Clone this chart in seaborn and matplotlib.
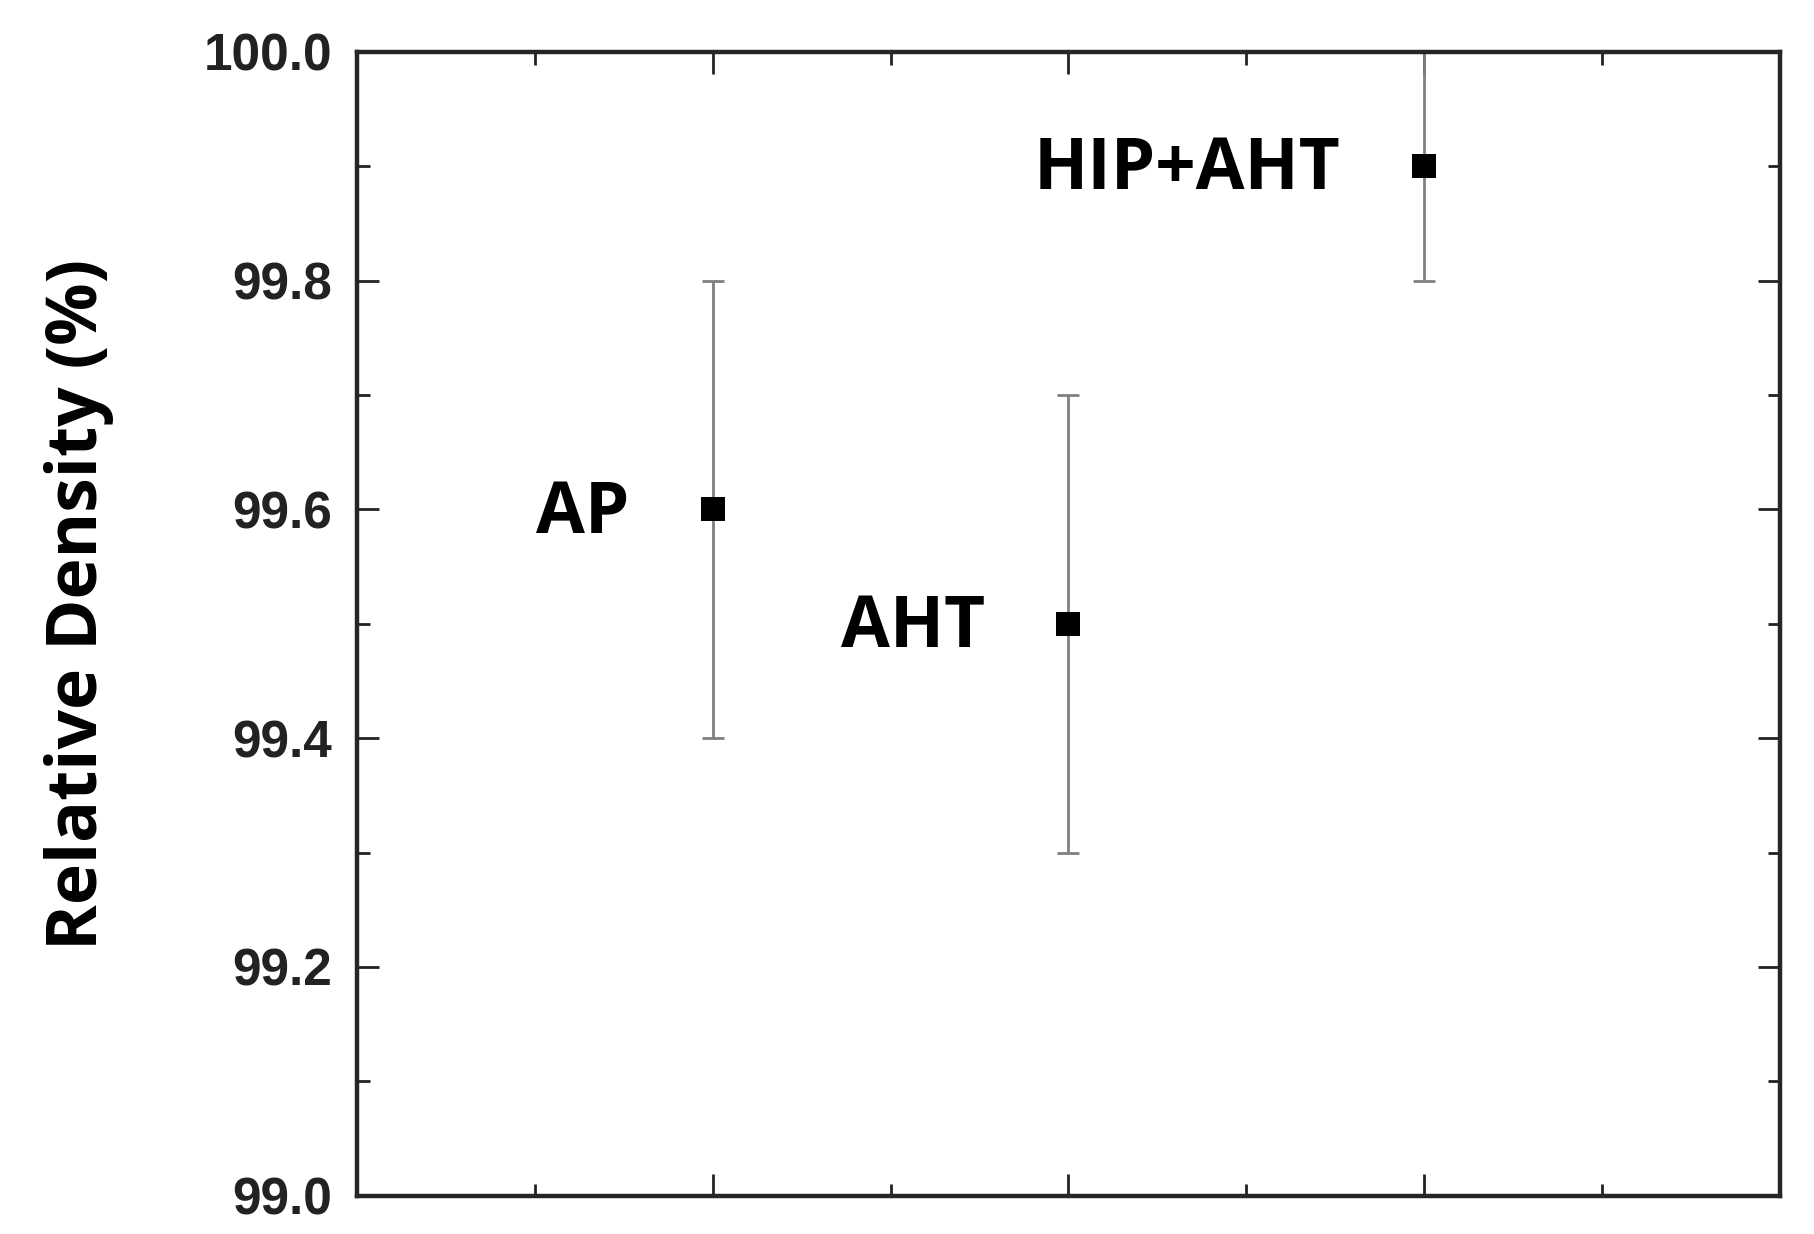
import matplotlib
matplotlib.use("Agg")
import matplotlib.pyplot as plt
from matplotlib.ticker import MultipleLocator
import seaborn as sns
import pandas as pd

# Relative density per processing route
conditions = ["AP", "AHT", "HIP+AHT"]
positions = [1, 2, 3]
density = [99.6, 99.5, 99.9]
density_err = [0.2, 0.2, 0.1]

y_ticks = [99.0, 99.2, 99.4, 99.6, 99.8, 100.0]

df = pd.DataFrame({"condition": conditions, "x": positions,
                   "density": density, "err": density_err})

sns.set_theme(style="ticks")
plt.rcParams['font.family'] = ['Liberation Sans', 'DejaVu Sans']
plt.rcParams['font.weight'] = 'bold'

fig = plt.figure(figsize=(18.14, 12.34), dpi=100)
ax = fig.add_axes([0.197, 0.031, 0.784, 0.927])

# error bars first, then square markers on top
ax.errorbar(df["x"], df["density"], yerr=df["err"], fmt='none',
            ecolor='#808080', elinewidth=2.0, capsize=8, capthick=2.0,
            zorder=2)
sns.scatterplot(data=df, x="x", y="density", marker='s', color='black',
                s=300, linewidth=0, ax=ax, zorder=3, legend=False)

# labels to the left of each point
for _, row in df.iterrows():
    ax.annotate(row["condition"], (row["x"], row["density"]),
                xytext=(-60, -3), textcoords='offset points',
                ha='right', va='center', fontsize=51, fontweight='bold',
                family=['Open Sans', 'DejaVu Sans'], color='black')

ax.set_xlim(0, 4)
ax.set_ylim(99.0, 100.0)
ax.xaxis.set_major_locator(MultipleLocator(1))
ax.xaxis.set_minor_locator(MultipleLocator(0.5))
ax.set_yticks(y_ticks)
ax.set_yticklabels([f"{v:.1f}" for v in y_ticks])
ax.yaxis.set_minor_locator(MultipleLocator(0.1))
ax.set_xticklabels([])
ax.set_xlabel("")

ax.tick_params(which='both', direction='in', top=True, right=True,
               color='#222222')
ax.tick_params(which='major', length=16, width=2)
ax.tick_params(which='minor', length=9, width=2)
ax.tick_params(axis='y', which='major', pad=18, labelsize=37,
               labelcolor='#222222')

for sp in ax.spines.values():
    sp.set_linewidth(3.2)
    sp.set_color('#262626')

ax.set_ylabel("Relative Density (%)", fontsize=50, fontweight='bold',
              family=['Open Sans', 'DejaVu Sans'], color='black')
ax.yaxis.set_label_coords(-0.171, 0.517)

fig.savefig("out.png", dpi=100)
